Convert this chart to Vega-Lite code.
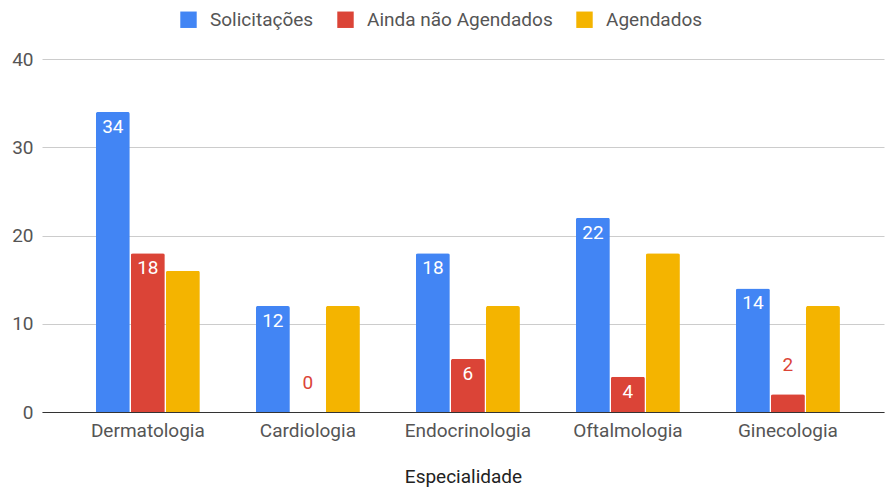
{
  "$schema": "https://vega.github.io/schema/vega-lite/v6.json",
  "width": 842,
  "height": 353,
  "autosize": "none",
  "padding": {"left": 42, "top": 59, "right": 2, "bottom": 77},
  "background": "white",
  "config": {"font": "Roboto", "view": {"stroke": null}},
  "data": {"values": [
    {"esp": "Dermatologia", "serie": "Solicitações", "valor": 34},
    {"esp": "Dermatologia", "serie": "Ainda não Agendados", "valor": 18},
    {"esp": "Dermatologia", "serie": "Agendados", "valor": 16},
    {"esp": "Cardiologia", "serie": "Solicitações", "valor": 12},
    {"esp": "Cardiologia", "serie": "Ainda não Agendados", "valor": 0},
    {"esp": "Cardiologia", "serie": "Agendados", "valor": 12},
    {"esp": "Endocrinologia", "serie": "Solicitações", "valor": 18},
    {"esp": "Endocrinologia", "serie": "Ainda não Agendados", "valor": 6},
    {"esp": "Endocrinologia", "serie": "Agendados", "valor": 12},
    {"esp": "Oftalmologia", "serie": "Solicitações", "valor": 22},
    {"esp": "Oftalmologia", "serie": "Ainda não Agendados", "valor": 4},
    {"esp": "Oftalmologia", "serie": "Agendados", "valor": 18},
    {"esp": "Ginecologia", "serie": "Solicitações", "valor": 14},
    {"esp": "Ginecologia", "serie": "Ainda não Agendados", "valor": 2},
    {"esp": "Ginecologia", "serie": "Agendados", "valor": 12}
  ]},
  "encoding": {
    "x": {
      "field": "esp", "type": "nominal",
      "sort": ["Dermatologia", "Cardiologia", "Endocrinologia", "Oftalmologia", "Ginecologia"],
      "scale": {"paddingInner": 0.35, "paddingOuter": 0.306, "align": 0.55},
      "title": "Especialidade",
      "axis": {
        "labelAngle": 0, "labelFontSize": 19, "labelColor": "#555", "ticks": false,
        "domainColor": "#333", "domainWidth": 1, "labelPadding": 9,
        "titleFontSize": 19, "titleColor": "#222", "titleFontWeight": "normal", "titlePadding": 27
      }
    },
    "xOffset": {
      "field": "serie", "type": "nominal",
      "scale": {"domain": ["Solicitações", "Ainda não Agendados", "Agendados"], "paddingInner": 0.03}
    },
    "y": {
      "field": "valor", "type": "quantitative",
      "scale": {"domain": [0, 40]},
      "title": null,
      "axis": {
        "values": [0, 10, 20, 30, 40], "grid": true, "gridColor": "#cccccc", "domain": false,
        "ticks": false, "labelPadding": 9, "labelFontSize": 19, "labelColor": "#555"
      }
    }
  },
  "layer": [
    {
      "mark": {"type": "bar", "cornerRadiusTopLeft": 2, "cornerRadiusTopRight": 2},
      "encoding": {
        "color": {
          "field": "serie", "type": "nominal",
          "scale": {"domain": ["Solicitações", "Ainda não Agendados", "Agendados"], "range": ["#4285F4", "#DB4437", "#F4B400"]},
          "legend": {
            "title": null, "orient": "none", "legendX": 137, "legendY": -49, "direction": "horizontal",
            "symbolType": "square", "symbolSize": 270, "symbolStrokeWidth": 0, "labelLimit": 400,
            "labelFontSize": 19, "labelColor": "#555", "labelOffset": 12, "columnPadding": 22
          }
        }
      }
    },
    {
      "transform": [{"filter": "datum.serie != 'Agendados' && datum.valor >= 4"}],
      "mark": {"type": "text", "baseline": "top", "dy": 6, "color": "white", "fontSize": 19},
      "encoding": {"text": {"field": "valor", "type": "quantitative"}}
    },
    {
      "transform": [{"filter": "datum.serie == 'Ainda não Agendados' && datum.valor < 4"}],
      "mark": {"type": "text", "baseline": "middle", "dy": -29, "color": "#DB4437", "fontSize": 19},
      "encoding": {"text": {"field": "valor", "type": "quantitative"}}
    }
  ]
}
